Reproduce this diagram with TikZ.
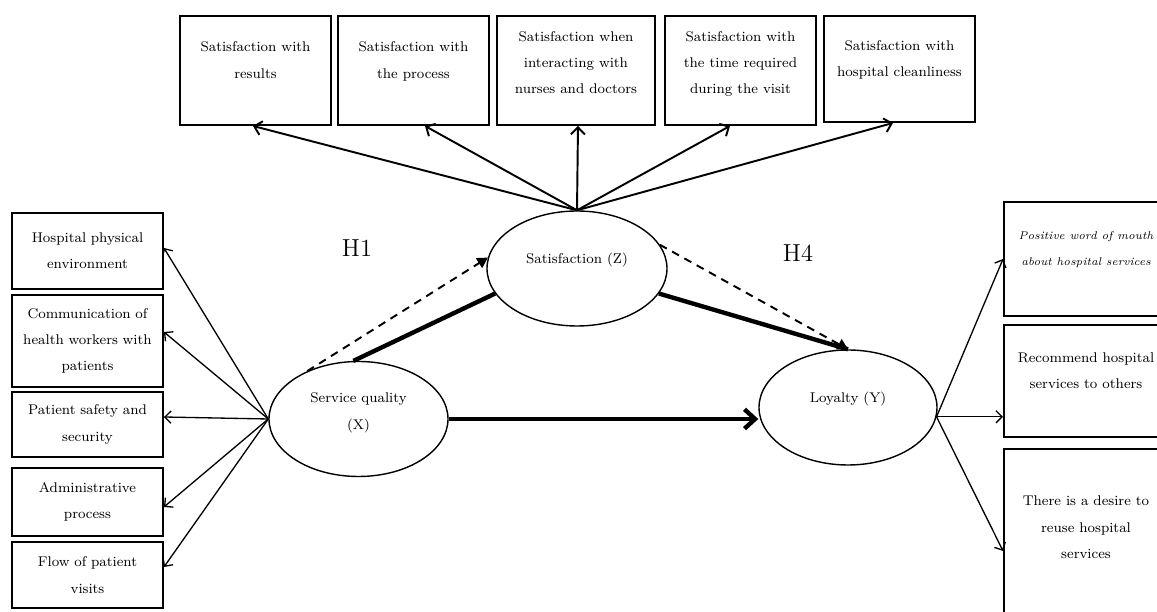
\documentclass[tikz,border=0pt]{standalone}
\usepackage{tikz}
\usetikzlibrary{calc}
\usetikzlibrary{shapes.geometric,%
arrows.meta,positioning%
}

\begin{document}
\begin{tikzpicture}[
  every node/.style={font=\fontsize{8}{15}\selectfont},
  topbox/.style={draw, line width=1.1pt, inner sep=2pt, align=center, minimum width=3.02cm, minimum height=2.18cm, text depth=12pt},
  sidebox/.style={draw, line width=1.1pt, inner sep=2pt, text width=2.8cm, align=center, minimum width=3.02cm},
  outbox/.style={draw, line width=1.1pt, inner sep=2pt, align=center, minimum width=3.28cm, text depth=12pt},
  latent/.style={ellipse, draw, line width=0.8pt, inner sep=0pt, align=center, minimum width=3.58cm, minimum height=2.3cm},
  hyp/.style={font=\fontsize{14}{16}\selectfont},
  toparrow/.style={line width=1.1pt, -{Straight Barb[length=4pt,width=8pt]}},
  thinarrow/.style={line width=0.75pt, -{Straight Barb[length=3.5pt,width=7pt]}},
  path/.style={line width=2.5pt},
  dasharrow/.style={line width=1.1pt, dash pattern=on 4.5pt off 3.5pt, -{Triangle[length=6pt,width=6.5pt]}}
]
\useasboundingbox (0, 0) rectangle (23.14, 12.24);
\clip (0, 0) rectangle (23.14, 12.24);

% satisfaction indicators
\node[topbox] (sat1) at (5.11, 10.83) {Satisfaction with\\results};
\node[topbox] (sat2) at (8.27, 10.83) {Satisfaction with\\the process};
\node[topbox, minimum width=3.16cm, text depth=9pt] (sat3) at (11.52, 10.83) {Satisfaction when\\interacting with\\nurses and doctors};
\node[topbox, text depth=9pt] (sat4) at (14.81, 10.83) {Satisfaction with\\the time required\\during the visit};
\node[topbox, minimum height=2.12cm] (sat5) at (17.99, 10.86) {Satisfaction with\\hospital cleanliness};

% service quality indicators
\node[sidebox, minimum height=1.52cm] (sq1) at (1.75, 7.22) {Hospital physical\\environment};
\node[sidebox, minimum height=1.84cm] (sq2) at (1.75, 5.42) {Communication of\\health workers with\\patients};
\node[sidebox, minimum height=1.30cm] (sq3) at (1.75, 3.75) {Patient safety and\\security};
\node[sidebox, minimum height=1.36cm] (sq4) at (1.75, 2.20) {Administrative\\process};
\node[sidebox, minimum height=1.32cm] (sq5) at (1.75, 0.74) {Flow of patient\\visits};

% loyalty indicators
\node[outbox, minimum height=2.28cm, font=\fontsize{6.4}{15}\selectfont\itshape] (loy1) at (21.72, 7.06) {Positive word of mouth\\about hospital services};
\node[outbox, minimum height=2.24cm] (loy2) at (21.72, 4.62) {Recommend hospital\\services to others};
\node[outbox, minimum height=3.48cm, text depth=10pt] (loy3) at (21.72, 1.52) {There is a desire to\\reuse hospital\\services};

% latent variables
\node[latent, text depth=9pt] (sq) at (7.17, 3.86) {Service quality\\(X)};
\node[latent, minimum width=3.6cm, text depth=12pt] (sat) at (11.54, 6.87) {Satisfaction (Z)};
\node[latent, minimum width=3.56cm, text depth=12pt] (loy) at (16.96, 4.09) {Loyalty (Y)};

\node[hyp] (h1) at (7.14, 7.28) {H1};
\node[hyp] (h4) at (15.96, 7.18) {H4};

\foreach \b/\dx in {sat1/-0.05, sat2/0.23, sat3/0.04, sat4/-0.21, sat5/-0.13}
  \draw[toparrow] (sat.north) -- ([xshift=\dx cm]\b.south);
\foreach \b/\dy in {sq1/0.06, sq2/0.18, sq3/0.15, sq4/-0.1, sq5/0.16}
  \draw[thinarrow] (sq.west) -- ([yshift=\dy cm]\b.east);

\coordinate (loyout) at (loy.-6);
\draw[thinarrow] (loyout) -- (loy1.west);
\draw[thinarrow] (loyout) -- (loyout -| loy2.west);
\draw[thinarrow] (loyout) -- ([yshift=-0.3cm]loy3.west);

\draw[path] (sq.95) -- (sat.197); % X -> Z
\draw[path] (sat.-17) -- (loy.north); % Z -> Y
\draw[path, -{Straight Barb[length=6pt,width=11pt]}] (sq.east) -- (sq.east -| loy.west); % X -> Y
\draw[dasharrow] (sq.137) -- (sat.173); % H1
\draw[dasharrow] (sat.16) -- (loy.north); % H4
\end{tikzpicture}
\end{document}
